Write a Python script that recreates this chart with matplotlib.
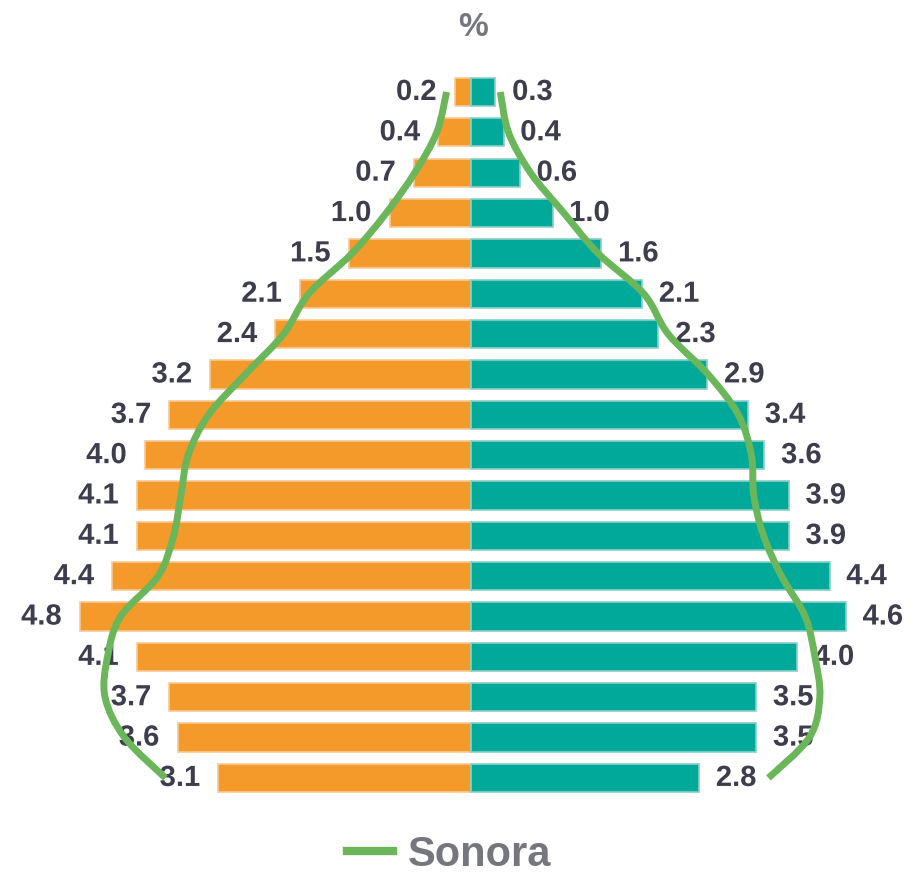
import matplotlib
matplotlib.use("Agg")
import matplotlib.pyplot as plt
import matplotlib.patheffects as pe
from matplotlib.path import Path
from matplotlib.patches import PathPatch
import numpy as np

# Age groups, top (oldest) to bottom (youngest)
age_groups = ["85+", "80-84", "75-79", "70-74", "65-69", "60-64", "55-59", "50-54",
              "45-49", "40-44", "35-39", "30-34", "25-29", "20-24", "15-19",
              "10-14", "5-9", "0-4"]
left_values = [0.2, 0.4, 0.7, 1.0, 1.5, 2.1, 2.4, 3.2, 3.7, 4.0, 4.1, 4.1, 4.4, 4.8, 4.1, 3.7, 3.6, 3.1]
right_values = [0.3, 0.4, 0.6, 1.0, 1.6, 2.1, 2.3, 2.9, 3.4, 3.6, 3.9, 3.9, 4.4, 4.6, 4.0, 3.5, 3.5, 2.8]
# Sonora reference profile
sonora_left = [0.30, 0.42, 0.69, 1.04, 1.46, 1.99, 2.30, 2.77, 3.22, 3.47, 3.56, 3.65, 3.84, 4.30, 4.46, 4.49, 4.25, 3.75]
sonora_right = [0.36, 0.46, 0.73, 1.14, 1.56, 2.12, 2.42, 2.91, 3.28, 3.44, 3.47, 3.59, 3.81, 4.10, 4.22, 4.28, 4.15, 3.65]
title = "%"
legend_label = "Sonora"

ORANGE = "#f39a2b"
TEAL = "#00a99a"
GREEN = "#6bb55a"
LABEL = "#3d3d4d"
GRAY = "#76777c"

plt.rcParams['font.family'] = ['Liberation Sans', 'DejaVu Sans']

fig = plt.figure(figsize=(9.14, 8.75), dpi=100)
ax = fig.add_axes([0, 0, 1, 1])
ax.set_xlim(-471 / 81.5, 443 / 81.5)
ax.set_ylim((875 - 92) / 40.35, -92 / 40.35)
ax.axis('off')

y = np.arange(len(age_groups))
lv = np.array(left_values)
rv = np.array(right_values)
ax.barh(y, -lv, height=0.7, color=ORANGE, edgecolor="#f8c896", linewidth=1.2, zorder=2)
ax.barh(y, rv, height=0.7, color=TEAL, edgecolor="#8ccfc6", linewidth=1.2, zorder=2)

halo = [pe.withStroke(linewidth=4, foreground="white")]
for yi, v in zip(y, lv):
    ax.annotate(f"{v:.1f}", xy=(-v, yi), xytext=(-13, 0), textcoords="offset points",
                ha="right", va="center", fontsize=21, fontweight="bold", color=LABEL,
                path_effects=halo, zorder=3)
for yi, v in zip(y, rv):
    ax.annotate(f"{v:.1f}", xy=(v, yi), xytext=(12, 0), textcoords="offset points",
                ha="left", va="center", fontsize=21, fontweight="bold", color=LABEL,
                path_effects=halo, zorder=3)


def smooth_path(xs, ys):
    pts = np.column_stack([xs, ys])
    n = len(pts)
    verts = [pts[0]]
    codes = [Path.MOVETO]
    for i in range(n - 1):
        p0 = pts[max(i - 1, 0)]
        p1 = pts[i]
        p2 = pts[i + 1]
        p3 = pts[min(i + 2, n - 1)]
        c1 = p1 + (p2 - p0) / 6.0
        c2 = p2 - (p3 - p1) / 6.0
        verts += [c1, c2, p2]
        codes += [Path.CURVE4] * 3
    return Path(verts, codes)


for xs in (-np.array(sonora_left), np.array(sonora_right)):
    patch = PathPatch(smooth_path(xs, y), facecolor="none", edgecolor=GREEN,
                      linewidth=5, capstyle="butt", joinstyle="round", zorder=4)
    ax.add_patch(patch)

fig.text(473 / 914, 1 - 28 / 875, title, ha="center", va="center", fontsize=24,
         fontweight="bold", color=GRAY)

# legend
ax.plot([], [], color=GREEN, linewidth=6, label=legend_label)
leg = fig.legend(loc="center", bbox_to_anchor=(449 / 914, 1 - 855 / 875), frameon=False,
                 fontsize=30, handlelength=1.1, handletextpad=0.35)
for t in leg.get_texts():
    t.set_color(GRAY)
    t.set_fontweight("bold")

fig.savefig("out.png", dpi=100)
